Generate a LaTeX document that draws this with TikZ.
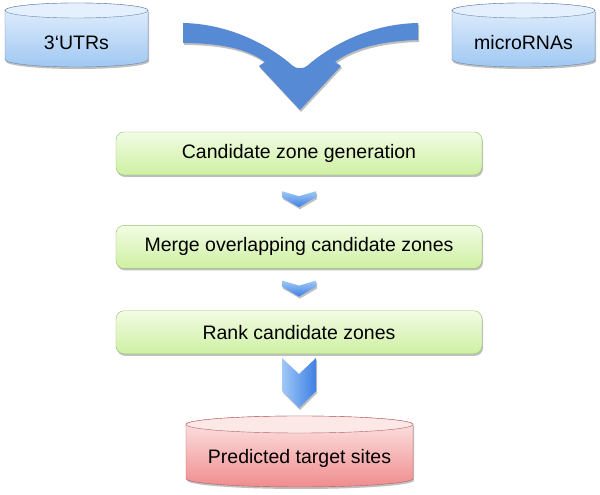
\documentclass[tikz,border=0pt]{standalone}
\usepackage{fontspec}
\setmainfont{Liberation Sans}
\usepackage{tikz}
\usetikzlibrary{calc}
\usetikzlibrary{shadows}
\usetikzlibrary{positioning}
\definecolor{arrowblue}{RGB}{86, 138, 212}
\definecolor{chevtop}{RGB}{160, 200, 248}
\definecolor{chevbot}{RGB}{62, 128, 226}
\definecolor{dbtop}{RGB}{228, 240, 253}
\definecolor{dbbot}{RGB}{160, 200, 242}
\definecolor{dbedge}{RGB}{104, 134, 172}
\definecolor{predtop}{RGB}{253, 232, 232}
\definecolor{predbot}{RGB}{240, 140, 142}
\definecolor{prededge}{RGB}{182, 96, 96}
\definecolor{stagetop}{RGB}{242, 252, 228}
\definecolor{stagebot}{RGB}{206, 240, 162}
\definecolor{stageedge}{RGB}{150, 192, 112}
\tikzset{softshadow/.style = {drop shadow={shadow xshift=1pt, shadow yshift=-2pt,
                                           opacity=0.25, fill=black}},
         stage/.style = {draw=stageedge, rounded corners=8pt, top color=stagetop,
                         bottom color=stagebot, minimum width=366pt, minimum height=43pt,
                         softshadow},
         dbblue/.style = {draw=dbedge, top color=dbtop, bottom color=dbbot, softshadow},
         dbred/.style = {draw=prededge, top color=predtop, bottom color=predbot, softshadow},
         chevron/.style = {top color=chevtop, bottom color=chevbot, softshadow},
         txt/.style = {font=\fontsize{19.5}{23}\selectfont}}

\begin{document}
\begin{tikzpicture}[x=1pt, y=1pt, every node/.style={txt}]
      \useasboundingbox (0, 0) rectangle (600, 495);
      % input databases
      \foreach \cx/\name/\label in {76.5/utr/3‘UTRs, 523.5/mirna/microRNAs} {
        \path [dbblue] (\cx-71.5, 484.5) -- (\cx-71.5, 435.5)
          arc [start angle=180, end angle=360, x radius=71.5, y radius=7.5]
          -- (\cx+71.5, 484.5)
          arc [start angle=0, end angle=180, x radius=71.5, y radius=7.5] -- cycle;
        \draw [dbedge, fill=dbtop] (\cx, 484.5) ellipse [x radius=71.5, y radius=7.5];
        \node (\name) at (\cx, 452) {\label};
      }
      % merging arrow
      \fill [arrowblue, softshadow] (183, 472) .. controls (235, 471) and (275, 445) .. (293, 429)
        .. controls (297, 426) and (303, 426) .. (307, 429)
        .. controls (325, 445) and (365, 471) .. (418, 472) -- (418, 455)
        .. controls (380, 454) and (352, 446) .. (335, 433) -- (341, 429) -- (300, 385)
        -- (259, 429) -- (265, 433) .. controls (248, 446) and (220, 452) .. (183, 452) -- cycle;
      % pipeline stages
      \node [stage] (gen) at (299, 341.5) {Candidate zone generation};
      \node [stage, below=50pt of gen] (merge) {Merge overlapping candidate zones};
      \node [stage, below=42pt of merge] (rank) {Rank candidate zones};
      \foreach \a/\b in {gen/merge, merge/rank}
        \path [chevron, shift={($(\a.south)!0.5!(\b.north)$)}] (-17, 9) -- (0, 4) -- (17, 9)
          -- (17, 3) -- (0, -7) -- (-17, 3) -- cycle;
      \path [left color=chevtop, right color=chevbot, softshadow, shift={(rank.south)}]
        (-17, -4) -- (0, -20) -- (17, -4) -- (17, -37) -- (0, -54) -- (-17, -37) -- cycle;
      % output database
      \path [dbred] (186, 70.5) -- (186, 16.5)
        arc [start angle=180, end angle=360, x radius=113.5, y radius=8.5]
        -- (413, 70.5) arc [start angle=0, end angle=180, x radius=113.5, y radius=8.5] -- cycle;
      \draw [prededge, fill=predtop] (299.5, 70.5) ellipse [x radius=113.5, y radius=8.5];
      \node (pred) at (299.5, 37) {Predicted target sites};
    \end{tikzpicture}
\end{document}
